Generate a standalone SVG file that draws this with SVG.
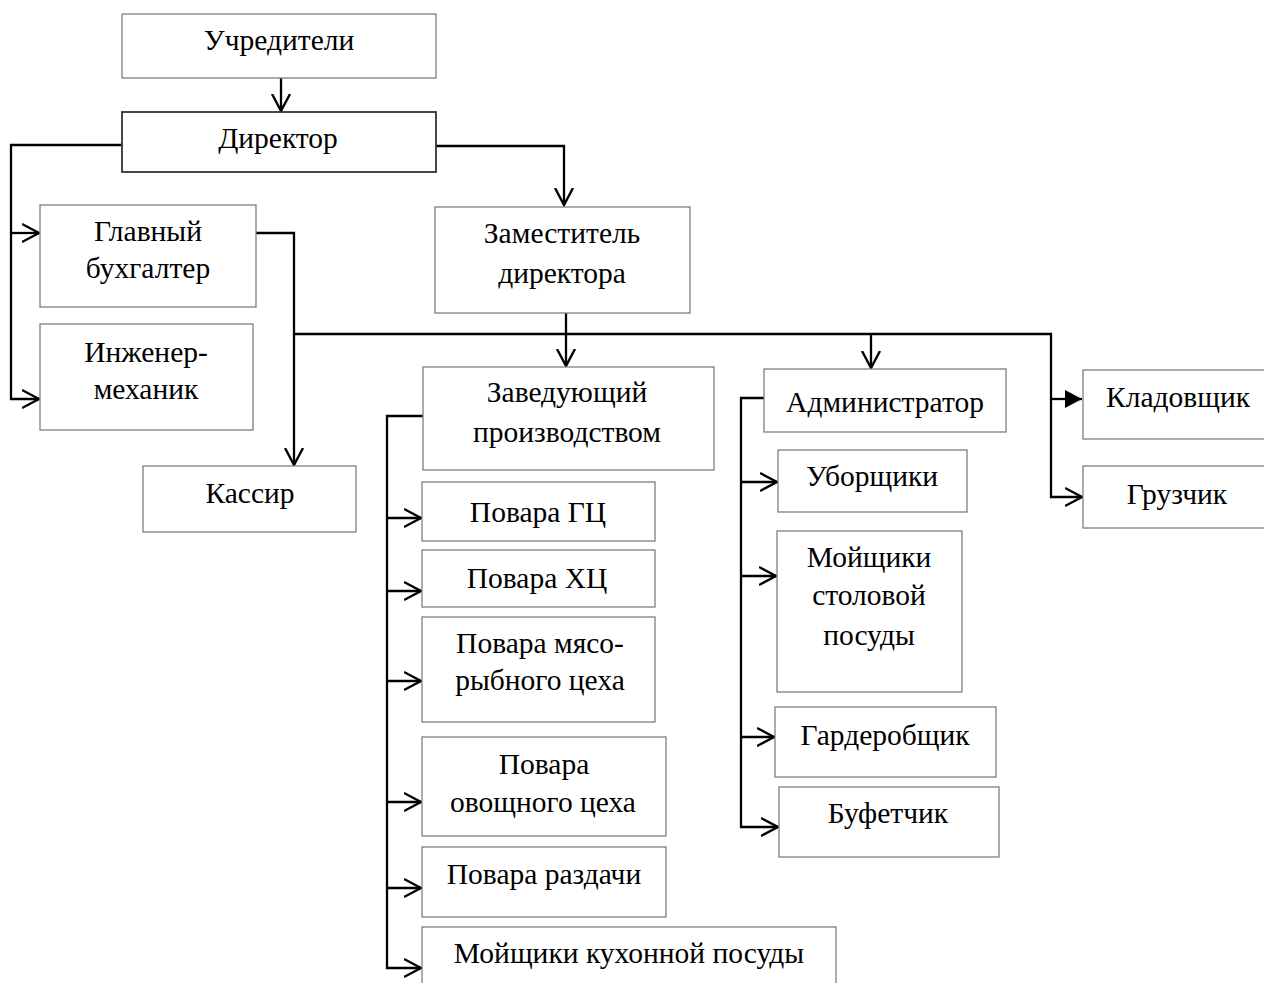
<svg xmlns="http://www.w3.org/2000/svg" width="1264" height="983" viewBox="0 0 1264 983">
<style>
.box{fill:#fff;stroke:#7f7f7f;stroke-width:1.3}
.boxd{fill:#fff;stroke:#333;stroke-width:1.8}
text{font-family:"Liberation Serif","Times New Roman",serif;font-size:29.5px;fill:#000;text-anchor:middle}
.ln{fill:none;stroke:#000;stroke-width:2.3}
</style>
<defs>
<marker id="ao" markerUnits="userSpaceOnUse" markerWidth="20" markerHeight="22" refX="17" refY="10" orient="auto" viewBox="0 0 20 20">
<path d="M0,1 L17,10 L0,19" fill="none" stroke="#000" stroke-width="2.4"/>
</marker>
<marker id="af" markerUnits="userSpaceOnUse" markerWidth="20" markerHeight="22" refX="17" refY="10" orient="auto" viewBox="0 0 20 20">
<path d="M0,1 L17,10 L0,19 Z" fill="#000"/>
</marker>
</defs>
<rect width="1264" height="983" fill="#fff"/>
<g id="connectors">
<path class="ln" d="M281,78 V111" marker-end="url(#ao)"/>
<path class="ln" d="M122,145 H11 V399 H39" marker-end="url(#ao)"/>
<path class="ln" d="M11,233 H39" marker-end="url(#ao)"/>
<path class="ln" d="M436,146 H564 V205" marker-end="url(#ao)"/>
<path class="ln" d="M256,233 H294 V465" marker-end="url(#ao)"/>
<path class="ln" d="M294,334 H1051 V497 H1082" marker-end="url(#ao)"/>
<path class="ln" d="M1051,399 H1082" marker-end="url(#af)"/>
<path class="ln" d="M566,313 V366" marker-end="url(#ao)"/>
<path class="ln" d="M871,334 V368" marker-end="url(#ao)"/>
<path class="ln" d="M423,416 H387 V968 H421" marker-end="url(#ao)"/>
<path class="ln" d="M387,518 H421" marker-end="url(#ao)"/>
<path class="ln" d="M387,591 H421" marker-end="url(#ao)"/>
<path class="ln" d="M387,681 H421" marker-end="url(#ao)"/>
<path class="ln" d="M387,802 H421" marker-end="url(#ao)"/>
<path class="ln" d="M387,888 H421" marker-end="url(#ao)"/>
<path class="ln" d="M764,398 H741 V827 H778" marker-end="url(#ao)"/>
<path class="ln" d="M741,482 H777" marker-end="url(#ao)"/>
<path class="ln" d="M741,576 H776" marker-end="url(#ao)"/>
<path class="ln" d="M741,737 H774" marker-end="url(#ao)"/>
</g>
<g id="n-uchrediteli"><rect class="box" x="122" y="14" width="314" height="64"/><text x="279" y="50">Учредители</text></g>
<g id="n-direktor"><rect class="boxd" x="122" y="112" width="314" height="60"/><text x="278" y="148">Директор</text></g>
<g id="n-glavbuh"><rect class="box" x="40" y="205" width="216" height="102"/><text x="148" y="241">Главный</text><text x="148" y="278">бухгалтер</text></g>
<g id="n-inzhener"><rect class="box" x="40" y="324" width="213" height="106"/><text x="146" y="362">Инженер-</text><text x="146" y="399">механик</text></g>
<g id="n-kassir"><rect class="box" x="143" y="466" width="213" height="66"/><text x="250" y="503">Кассир</text></g>
<g id="n-zam"><rect class="box" x="435" y="207" width="255" height="106"/><text x="562" y="243">Заместитель</text><text x="562" y="283">директора</text></g>
<g id="n-zaved"><rect class="box" x="423" y="367" width="291" height="103"/><text x="567" y="402">Заведующий</text><text x="567" y="442">производством</text></g>
<g id="n-admin"><rect class="box" x="764" y="369" width="242" height="63"/><text x="885" y="412">Администратор</text></g>
<g id="n-kladov"><rect class="box" x="1083" y="370" width="190" height="69"/><text x="1178" y="407">Кладовщик</text></g>
<g id="n-gruzchik"><rect class="box" x="1083" y="466" width="190" height="62"/><text x="1177" y="504">Грузчик</text></g>
<g id="n-povgc"><rect class="box" x="422" y="482" width="233" height="59"/><text x="538" y="522">Повара ГЦ</text></g>
<g id="n-povhc"><rect class="box" x="422" y="550" width="233" height="57"/><text x="537" y="588">Повара ХЦ</text></g>
<g id="n-povmr"><rect class="box" x="422" y="617" width="233" height="105"/><text x="540" y="653">Повара мясо-</text><text x="540" y="690">рыбного цеха</text></g>
<g id="n-povov"><rect class="box" x="422" y="737" width="244" height="99"/><text x="544" y="774">Повара</text><text x="543" y="812">овощного цеха</text></g>
<g id="n-povraz"><rect class="box" x="422" y="847" width="244" height="70"/><text x="544" y="884">Повара раздачи</text></g>
<g id="n-moyk"><rect class="box" x="422" y="927" width="414" height="70"/><text x="629" y="963">Мойщики кухонной посуды</text></g>
<g id="n-uborsh"><rect class="box" x="778" y="450" width="189" height="62"/><text x="872" y="486">Уборщики</text></g>
<g id="n-moyst"><rect class="box" x="777" y="531" width="185" height="161"/><text x="869" y="567">Мойщики</text><text x="869" y="605">столовой</text><text x="869" y="645">посуды</text></g>
<g id="n-garder"><rect class="box" x="775" y="707" width="221" height="70"/><text x="885" y="745">Гардеробщик</text></g>
<g id="n-bufet"><rect class="box" x="779" y="787" width="220" height="70"/><text x="888" y="823">Буфетчик</text></g>
</svg>
